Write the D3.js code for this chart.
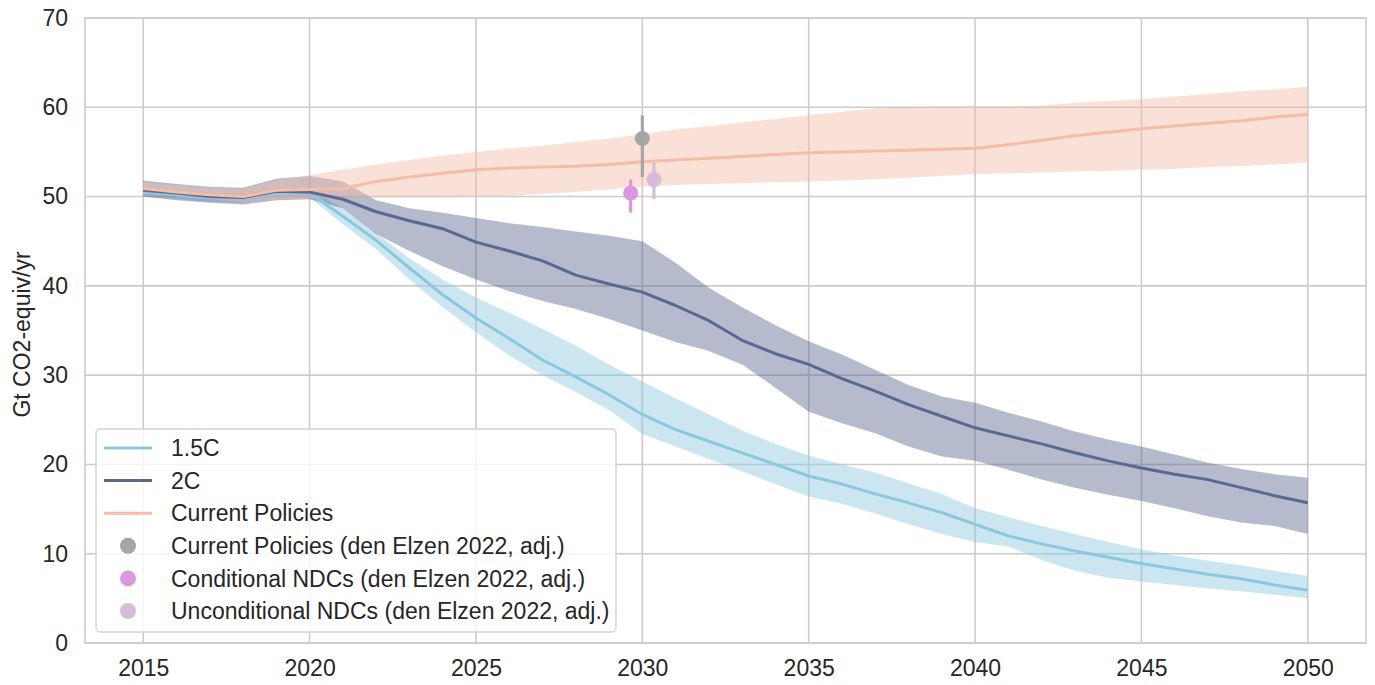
<!DOCTYPE html>
<html>
<head>
<meta charset="utf-8">
<script src="https://cdn.jsdelivr.net/npm/d3@7"></script>
<style>
  html, body { margin: 0; padding: 0; background: #ffffff; }
  svg { display: block; font-family: "Liberation Sans", Arial, Helvetica, sans-serif; }
</style>
</head>
<body>
<svg id="chart" width="1375" height="685"></svg>
<script>
// ---------- data ----------
const years = d3.range(2015, 2051);

const c15Mid = [50.5,50.2,49.9,49.8,50.4,50.4,47.8,45.1,42.0,39.0,36.4,34.1,31.7,29.8,27.8,25.6,23.9,22.6,21.3,20.0,18.7,17.8,16.7,15.7,14.6,13.3,12.0,11.1,10.3,9.6,8.9,8.3,7.7,7.2,6.5,5.9];
const c15Hi  = [51.0,50.7,50.4,50.3,50.9,50.9,48.7,45.9,43.1,40.7,38.7,37.0,35.2,33.3,31.2,29.3,27.4,25.6,23.8,22.3,21.0,20.0,19.1,17.9,16.7,15.1,14.1,13.1,12.2,11.3,10.5,9.8,9.2,8.7,8.1,7.5];
const c15Lo  = [50.0,49.7,49.4,49.3,49.9,49.9,46.9,44.1,40.7,37.6,34.8,32.2,30.0,28.1,26.1,23.4,22.0,20.6,19.2,17.8,16.4,15.6,14.5,13.3,12.2,11.3,10.8,9.3,8.1,7.3,6.9,6.5,6.1,5.8,5.4,5.0];

const c2Mid = [50.7,50.4,50.0,49.9,50.6,50.5,49.7,48.3,47.3,46.4,44.9,43.9,42.8,41.2,40.2,39.3,37.8,36.1,33.9,32.4,31.2,29.6,28.2,26.7,25.4,24.1,23.2,22.3,21.3,20.4,19.6,18.9,18.3,17.4,16.5,15.7];
const c2Hi  = [51.8,51.4,51.1,51.0,52.0,52.3,51.7,49.6,48.7,48.2,47.6,47.0,46.6,46.1,45.6,45.0,42.6,39.8,37.6,35.6,33.8,32.3,30.6,28.9,27.6,26.9,25.8,24.8,23.7,22.8,22.0,21.1,20.2,19.5,18.9,18.5];
const c2Lo  = [50.0,49.6,49.3,49.1,49.6,49.7,48.7,45.8,43.9,42.2,40.7,39.4,38.3,37.4,36.3,35.0,33.7,32.7,31.2,28.6,25.9,24.6,23.5,22.0,20.9,20.4,19.4,18.3,17.4,16.6,15.9,15.1,14.2,13.5,13.1,12.2];

const cpMid = [50.9,50.5,50.2,50.0,50.7,50.8,50.9,51.7,52.2,52.6,53.0,53.2,53.3,53.4,53.6,53.9,54.1,54.3,54.5,54.7,54.9,55.0,55.1,55.2,55.3,55.4,55.8,56.3,56.8,57.2,57.6,57.9,58.2,58.5,58.9,59.2];
const cpHi  = [51.6,51.2,51.0,50.9,51.8,52.4,53.0,53.6,54.1,54.6,55.0,55.4,55.7,56.1,56.5,57.0,57.5,57.9,58.3,58.7,59.1,59.5,59.9,60.0,60.1,60.1,60.1,60.2,60.5,60.7,60.9,61.2,61.5,61.8,62.0,62.3];
const cpLo  = [50.3,50.0,49.7,49.4,49.8,49.8,49.9,49.9,49.9,49.9,50.0,50.1,50.3,50.5,50.8,51.1,51.3,51.4,51.5,51.6,51.7,51.8,51.9,52.1,52.3,52.5,52.6,52.7,52.8,52.9,53.0,53.1,53.3,53.4,53.6,53.8];

const pointLabels = ["Current Policies (den Elzen 2022, adj.)", "Conditional NDCs (den Elzen 2022, adj.)", "Unconditional NDCs (den Elzen 2022, adj.)"];
const pointYears  = [2030, 2029.65, 2030.35];
const pointValues = [56.5, 50.4, 51.9];
const pointLow    = [52.2, 48.2, 49.7];
const pointHigh   = [59.1, 51.9, 53.8];

const seriesLabels = ["1.5C", "2C", "Current Policies"];
const xTicks = [2015, 2020, 2025, 2030, 2035, 2040, 2045, 2050];
const yTicks = [0, 10, 20, 30, 40, 50, 60, 70];
const yLabel = "Gt CO2-equiv/yr";

// ---------- styles ----------
const lineColors = ["#8bc8de", "#5d6790", "#f5bca7"];
const pointColors = ["#a5a5a5", "#dc96de", "#d7bcd8"];
const bandOpacity = 0.45;
const fontSize = 23;

// ---------- layout ----------
const svg = d3.select("#chart");
const L = 85, R = 1366, T = 18, B = 643;
const x = d3.scaleLinear().domain([2013.25, 2051.75]).range([L, R]);
const y = d3.scaleLinear().domain([0, 70]).range([B, T]);

const gridColor = "#cccccc";
const textColor = "#262626";

// grid
svg.append("g").selectAll("line").data(xTicks).join("line")
  .attr("x1", d => x(d)).attr("x2", d => x(d)).attr("y1", T).attr("y2", B)
  .attr("stroke", gridColor).attr("stroke-width", 1.6);
svg.append("g").selectAll("line").data(yTicks).join("line")
  .attr("x1", L).attr("x2", R).attr("y1", d => y(d)).attr("y2", d => y(d))
  .attr("stroke", gridColor).attr("stroke-width", 1.6);

// axes (labels via d3 axes, no tick lines)
const xAxis = svg.append("g").attr("transform", `translate(0,${B})`)
  .call(d3.axisBottom(x).tickValues(xTicks).tickFormat(d3.format("d")).tickSize(0).tickPadding(17));
const yAxis = svg.append("g").attr("transform", `translate(${L},0)`)
  .call(d3.axisLeft(y).tickValues(yTicks).tickSize(0).tickPadding(17));
[xAxis, yAxis].forEach(a => {
  a.select(".domain").remove();
  a.selectAll("text").attr("font-size", fontSize).attr("fill", textColor)
    .attr("font-family", '"Liberation Sans", Arial, sans-serif');
});

svg.append("text")
  .attr("transform", `translate(30,${(T + B) / 2 + 4}) rotate(-90)`)
  .attr("text-anchor", "middle")
  .attr("font-size", fontSize).attr("fill", textColor)
  .text(yLabel);

// bands & lines
const series = [
  { mid: c15Mid, lo: c15Lo, hi: c15Hi },
  { mid: c2Mid,  lo: c2Lo,  hi: c2Hi },
  { mid: cpMid,  lo: cpLo,  hi: cpHi }
];
const area = d3.area().x(d => x(d.year)).y0(d => y(d.lo)).y1(d => y(d.hi));
const line = d3.line().x(d => x(d.year)).y(d => y(d.v));

const plot = svg.append("g");
series.forEach((s, i) => {
  const rows = years.map((yr, k) => ({ year: yr, lo: s.lo[k], hi: s.hi[k] }));
  plot.append("path").datum(rows).attr("d", area)
    .attr("fill", lineColors[i]).attr("fill-opacity", bandOpacity).attr("stroke", "none");
});
series.forEach((s, i) => {
  const rows = years.map((yr, k) => ({ year: yr, v: s.mid[k] }));
  plot.append("path").datum(rows).attr("d", line)
    .attr("fill", "none").attr("stroke", lineColors[i]).attr("stroke-width", 3)
    .attr("stroke-linejoin", "round").attr("stroke-linecap", "butt");
});

// points with error bars
pointValues.forEach((v, i) => {
  plot.append("line")
    .attr("x1", x(pointYears[i])).attr("x2", x(pointYears[i]))
    .attr("y1", y(pointLow[i])).attr("y2", y(pointHigh[i]))
    .attr("stroke", pointColors[i]).attr("stroke-width", 3.2);
  plot.append("circle")
    .attr("cx", x(pointYears[i])).attr("cy", y(v)).attr("r", 7.5)
    .attr("fill", pointColors[i]);
});

// spines
svg.append("rect").attr("x", L).attr("y", T).attr("width", R - L).attr("height", B - T)
  .attr("fill", "none").attr("stroke", gridColor).attr("stroke-width", 1.6);

// legend
const lg = svg.append("g");
lg.append("rect").attr("x", 96).attr("y", 429).attr("width", 520).attr("height", 203)
  .attr("rx", 4).attr("ry", 4)
  .attr("fill", "#ffffff").attr("fill-opacity", 0.8)
  .attr("stroke", "#d4d4d4").attr("stroke-width", 1.5);
const rowY = d3.scaleLinear().domain([0, 5]).range([448, 611]);
seriesLabels.forEach((lab, i) => {
  lg.append("line").attr("x1", 104).attr("x2", 152).attr("y1", rowY(i)).attr("y2", rowY(i))
    .attr("stroke", lineColors[i]).attr("stroke-width", 3);
  lg.append("text").attr("x", 171).attr("y", rowY(i)).attr("dy", "0.36em")
    .attr("font-size", fontSize).attr("fill", textColor).text(lab);
});
pointLabels.forEach((lab, i) => {
  const r = rowY(i + 3);
  lg.append("circle").attr("cx", 128).attr("cy", r).attr("r", 8).attr("fill", pointColors[i]);
  lg.append("text").attr("x", 171).attr("y", r).attr("dy", "0.36em")
    .attr("font-size", fontSize).attr("fill", textColor).text(lab);
});
</script>
</body>
</html>
